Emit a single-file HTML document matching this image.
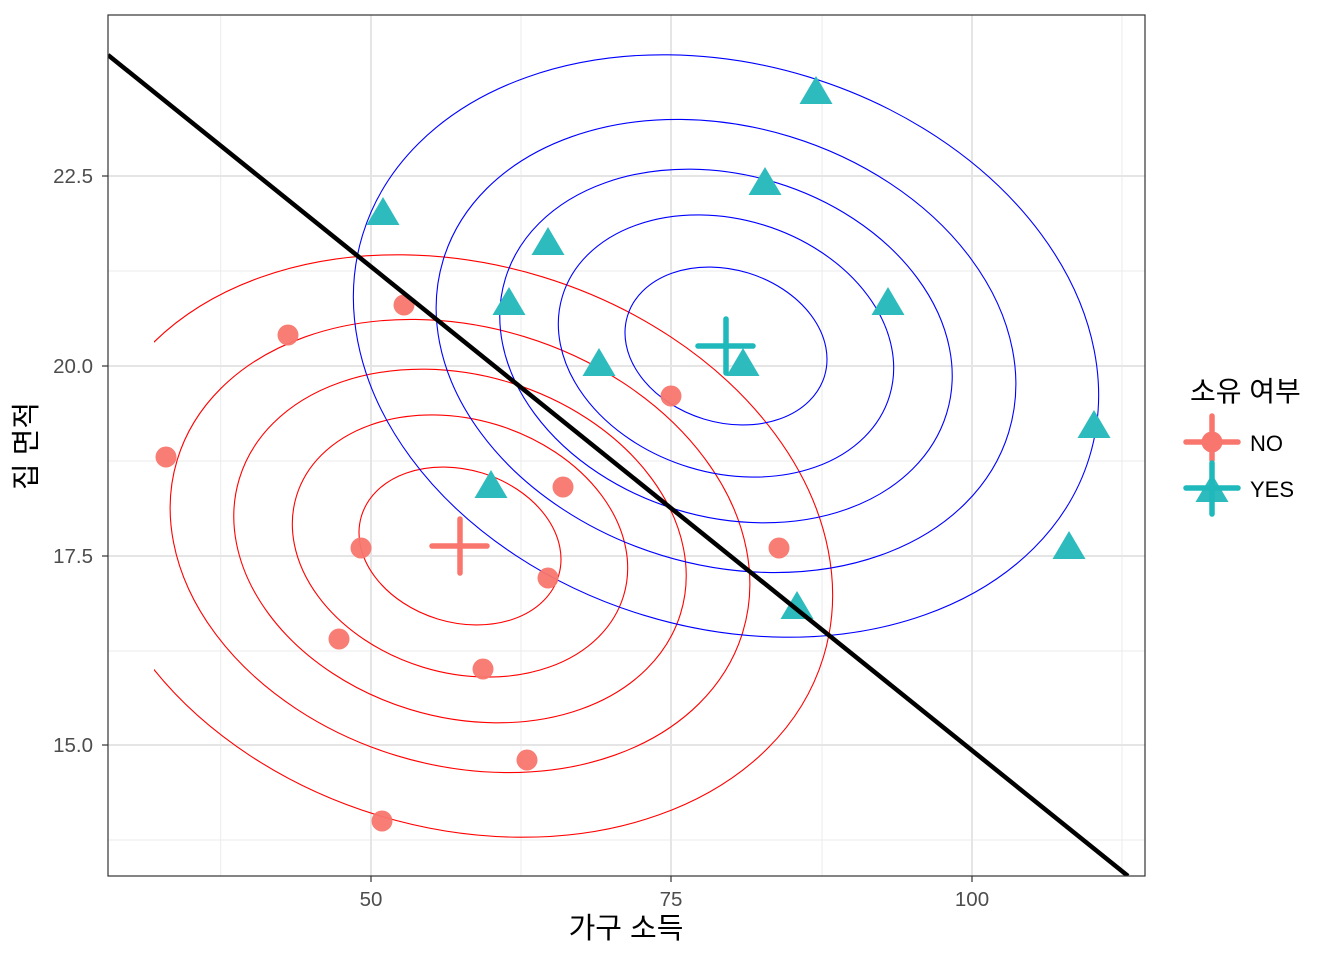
<!DOCTYPE html>
<html><head><meta charset="utf-8"><style>body{margin:0;background:#fff}svg{display:block}</style></head><body>
<svg width="1344" height="960" xmlns="http://www.w3.org/2000/svg" font-family="Liberation Sans, Noto Sans CJK KR, sans-serif">
<defs>
<clipPath id="p"><rect x="108" y="15" width="1037" height="861"/></clipPath>
<clipPath id="rc"><rect x="154" y="15" width="991" height="861"/></clipPath>
</defs>
<rect x="108" y="15" width="1037" height="861" fill="#fff"/>
<g stroke="#ebebeb" stroke-width="1">
<line x1="220.7" y1="15" x2="220.7" y2="876"/><line x1="521" y1="15" x2="521" y2="876"/><line x1="822" y1="15" x2="822" y2="876"/><line x1="1122" y1="15" x2="1122" y2="876"/>
<line x1="108" y1="271" x2="1145" y2="271"/><line x1="108" y1="461" x2="1145" y2="461"/><line x1="108" y1="651" x2="1145" y2="651"/><line x1="108" y1="840" x2="1145" y2="840"/>
</g>
<g stroke="#e5e5e5" stroke-width="2">
<line x1="371" y1="15" x2="371" y2="876"/><line x1="671" y1="15" x2="671" y2="876"/><line x1="972" y1="15" x2="972" y2="876"/>
<line x1="108" y1="176" x2="1145" y2="176"/><line x1="108" y1="366" x2="1145" y2="366"/><line x1="108" y1="556" x2="1145" y2="556"/><line x1="108" y1="745" x2="1145" y2="745"/>
</g>
<g clip-path="url(#rc)" fill="none" stroke="#ff0000" stroke-width="1.1">
<g transform="translate(460,546) rotate(17)">
<ellipse rx="103" ry="76.3"/><ellipse rx="171" ry="126.7"/><ellipse rx="230.7" ry="170.9"/><ellipse rx="295.6" ry="219"/><ellipse rx="380" ry="281.5"/>
</g></g>
<g clip-path="url(#p)" fill="none" stroke="#0000ff" stroke-width="1.1">
<g transform="translate(726,346) rotate(17)">
<ellipse rx="103" ry="76.3"/><ellipse rx="171" ry="126.7"/><ellipse rx="230.7" ry="170.9"/><ellipse rx="295.6" ry="219"/><ellipse rx="380" ry="281.5"/>
</g></g>
<g fill="#F8766D" fill-opacity="0.95">
<circle cx="166" cy="457" r="10.5"/><circle cx="288" cy="335" r="10.5"/><circle cx="404" cy="305" r="10.5"/><circle cx="361" cy="548" r="10.5"/><circle cx="339" cy="639" r="10.5"/><circle cx="483" cy="669" r="10.5"/><circle cx="527" cy="760" r="10.5"/><circle cx="382" cy="821" r="10.5"/><circle cx="548" cy="578" r="10.5"/><circle cx="563" cy="487" r="10.5"/><circle cx="671" cy="396" r="10.5"/><circle cx="779" cy="548" r="10.5"/>
</g>
<g fill="#2DBBBE">
<path d="M383,197 l-16.5,28 h33z"/><path d="M548,227 l-16.5,28 h33z"/><path d="M509,287 l-16.5,28 h33z"/><path d="M599,348 l-16.5,28 h33z"/><path d="M491,470 l-16.5,28 h33z"/><path d="M743,348 l-16.5,28 h33z"/><path d="M765,167 l-16.5,28 h33z"/><path d="M816,76 l-16.5,28 h33z"/><path d="M888,287 l-16.5,28 h33z"/><path d="M1094,410 l-16.5,28 h33z"/><path d="M1069,531 l-16.5,28 h33z"/><path d="M797,591 l-16.5,28 h33z"/>
</g>
<g stroke-linecap="round" stroke-width="5.5">
<g stroke="#F8766D"><line x1="432" y1="546" x2="487" y2="546"/><line x1="460" y1="519" x2="460" y2="573"/></g>
<g stroke="#1FB8BB"><line x1="698" y1="346" x2="753" y2="346"/><line x1="726" y1="319" x2="726" y2="373"/></g>
</g>
<line x1="108" y1="55" x2="1128" y2="876" stroke="#000" stroke-width="4.5" clip-path="url(#p)"/>
<rect x="108" y="15" width="1037" height="861" fill="none" stroke="#333" stroke-width="1.2"/>
<g stroke="#333" stroke-width="1.2">
<line x1="371" y1="876" x2="371" y2="882"/><line x1="671" y1="876" x2="671" y2="882"/><line x1="972" y1="876" x2="972" y2="882"/>
<line x1="102" y1="176" x2="108" y2="176"/><line x1="102" y1="366" x2="108" y2="366"/><line x1="102" y1="556" x2="108" y2="556"/><line x1="102" y1="745" x2="108" y2="745"/>
</g>
<g fill="#4d4d4d" font-size="20.5">
<text x="371" y="906" text-anchor="middle">50</text><text x="671" y="906" text-anchor="middle">75</text><text x="972" y="906" text-anchor="middle">100</text>
<text x="93" y="183" text-anchor="end">22.5</text><text x="93" y="373" text-anchor="end">20.0</text><text x="93" y="563" text-anchor="end">17.5</text><text x="93" y="752" text-anchor="end">15.0</text>
</g>
<text x="626" y="938" text-anchor="middle" font-size="29">가구 소득</text>
<text transform="translate(36,446) rotate(-90)" text-anchor="middle" font-size="29">집 면적</text>
<text x="1190" y="401" font-size="28">소유 여부</text>
<circle cx="1212" cy="442" r="10.5" fill="#F8766D"/>
<path d="M1212,474 l-16.5,28 h33z" fill="#2DBBBE"/>
<g stroke-linecap="round" stroke-width="5.5">
<g stroke="#F8766D"><line x1="1186" y1="442" x2="1238" y2="442"/><line x1="1212" y1="416" x2="1212" y2="460"/></g>
<g stroke="#1FB8BB"><line x1="1186" y1="488" x2="1238" y2="488"/><line x1="1212" y1="463" x2="1212" y2="514"/></g>
</g>
<text x="1250" y="451" font-size="22">NO</text>
<text x="1250" y="497" font-size="22">YES</text>
</svg>
</body></html>
